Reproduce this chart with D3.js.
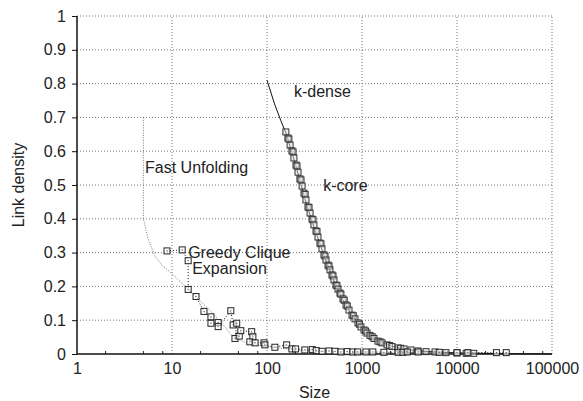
<!DOCTYPE html>
<html><head><meta charset="utf-8">
<script src="https://cdn.jsdelivr.net/npm/d3@7"></script>
<style>
body{margin:0;background:#fff;}
text{font-family:"Liberation Sans",Arial,Helvetica,sans-serif;fill:#222;}
</style></head><body>
<svg id="c" width="583" height="401"></svg>
<script>
// ---- data ----
const xTicks = [1, 10, 100, 1000, 10000, 100000];
const xTickLabels = ["1", "10", "100", "1000", "10000", "100000"];
const xMinorMult = [2, 5, 8];
const yTicks = [0, 0.1, 0.2, 0.3, 0.4, 0.5, 0.6, 0.7, 0.8, 0.9, 1];
const yTickLabels = ["0", "0.1", "0.2", "0.3", "0.4", "0.5", "0.6", "0.7", "0.8", "0.9", "1"];

const fastUnfoldingSize    = [5, 5, 5.6, 6.6, 8, 9.9, 14.8, 25, 34.6, 44, 61, 99, 200, 400];
const fastUnfoldingDensity = [0.70, 0.40, 0.34, 0.29, 0.26, 0.239, 0.191, 0.13, 0.086, 0.051, 0.032, 0.022, 0.012, 0.006];

const greedySize = [8.85, 12.8, 14.8, 14.8, 17.9, 21.7, 25.7, 25.7, 30.6, 30.6, 41.6, 44, 48, 46, 51, 53, 69, 71, 66, 75, 93, 95, 121, 161, 183, 200,
  250, 300, 330, 380, 450, 520, 600, 700, 800, 900, 1100, 1300, 1700, 2400, 2700, 3000, 3900, 6500, 10000, 13000, 26000, 33000];
const greedyDensity = [0.305, 0.308, 0.276, 0.191, 0.170, 0.126, 0.110, 0.091, 0.093, 0.081, 0.128, 0.086, 0.091, 0.046, 0.053, 0.069, 0.066, 0.051, 0.036, 0.033, 0.033, 0.027, 0.020, 0.027, 0.015, 0.015,
  0.012, 0.013, 0.010, 0.008, 0.009, 0.008, 0.006, 0.007, 0.006, 0.006, 0.006, 0.006, 0.005, 0.005, 0.005, 0.006, 0.006, 0.005, 0.004, 0.004, 0.004, 0.004];

const kcoreSize = [158, 166, 170, 175, 183, 188, 192, 202, 207, 212, 222, 228, 234, 245, 252, 257, 270, 277, 284, 298, 305, 312, 328, 336, 344, 361, 370, 379, 398, 408, 418, 439, 450, 460, 483, 495, 507, 532, 545, 559, 586, 600, 631, 650, 679, 700, 730, 785, 810, 844, 908, 940, 976, 1050, 1090, 1129, 1214, 1280, 1337, 1473, 1550, 1624, 1834, 1950, 2070, 2393, 2550, 2767, 3279, 3882, 4720, 5867, 7654, 10000, 12500, 15000];
const kcoreDensity = [0.657, 0.639, 0.636, 0.618, 0.601, 0.598, 0.580, 0.559, 0.556, 0.538, 0.518, 0.515, 0.497, 0.476, 0.472, 0.456, 0.435, 0.433, 0.417, 0.399, 0.397, 0.382, 0.364, 0.362, 0.346, 0.328, 0.326, 0.311, 0.293, 0.290, 0.278, 0.263, 0.260, 0.249, 0.234, 0.231, 0.219, 0.204, 0.202, 0.192, 0.180, 0.177, 0.163, 0.159, 0.145, 0.142, 0.130, 0.115, 0.113, 0.104, 0.092, 0.088, 0.080, 0.071, 0.068, 0.062, 0.055, 0.051, 0.046, 0.038, 0.036, 0.033, 0.027, 0.025, 0.022, 0.018, 0.017, 0.015, 0.012, 0.009, 0.007, 0.006, 0.004, 0.003, 0.002, 0.002];

const kdenseSize    = [100, 120, 140, 160, 200, 250, 300, 400, 500, 630, 800, 1000, 1500, 2000, 3000, 5000, 10000, 30000, 100000];
const kdenseDensity = [0.81, 0.74, 0.69, 0.65, 0.56, 0.46, 0.39, 0.29, 0.22, 0.16, 0.11, 0.08, 0.04, 0.024, 0.013, 0.007, 0.003, 0.001, 0.0];

const labels = [
  {text: "Fast Unfolding", s: 5.2, v: 0.535},
  {text: "Greedy Clique", s: 14.8, v: 0.283},
  {text: "Expansion", s: 16.3, v: 0.236},
  {text: "k-dense", s: 192, v: 0.76},
  {text: "k-core", s: 390, v: 0.483}
];

// ---- chart ----
const svg = d3.select("#c");
const L = 77, R = 552, T = 16, B = 354;
const x = d3.scaleLog().domain([1, 100000]).range([L, R]);
const y = d3.scaleLinear().domain([0, 1]).range([B, T]);

const zip = (a, b) => a.map((d, i) => [d, b[i]]);

// grid
const g = svg.append("g");
g.selectAll("line.gx").data(xTicks.slice(1)).join("line")
  .attr("x1", d => x(d)).attr("x2", d => x(d)).attr("y1", B).attr("y2", T)
  .attr("stroke", "#777").attr("stroke-width", 1).attr("stroke-dasharray", "1,2");
g.selectAll("line.gy").data(yTicks.slice(1)).join("line")
  .attr("x1", L).attr("x2", R).attr("y1", d => y(d)).attr("y2", d => y(d))
  .attr("stroke", "#777").attr("stroke-width", 1).attr("stroke-dasharray", "1,2");

// minor x ticks
const minors = [];
xTicks.slice(0, -1).forEach(t => xMinorMult.forEach(m => minors.push(t * m)));
g.selectAll("line.mx").data(minors).join("line")
  .attr("x1", d => x(d)).attr("x2", d => x(d)).attr("y1", B).attr("y2", B - 3)
  .attr("stroke", "#222");

// axes
const xAxis = d3.axisBottom(x).tickValues(xTicks).tickFormat((d, i) => xTickLabels[i]).tickSize(0).tickPadding(9);
const yAxis = d3.axisLeft(y).tickValues(yTicks).tickFormat((d, i) => yTickLabels[i]).tickSize(5).tickPadding(6);
const gx = svg.append("g").attr("transform", `translate(0,${B})`).call(xAxis);
const gy = svg.append("g").attr("transform", `translate(${L},0)`).call(yAxis);
[gx, gy].forEach(a => {
  a.select(".domain").attr("stroke", "#111").attr("stroke-width", 1.5);
  a.selectAll(".tick line").attr("stroke", "#111");
  a.selectAll(".tick text").attr("font-size", 16).attr("fill", "#222")
    .attr("font-family", "'Liberation Sans',Arial,sans-serif");
});
gx.select(".domain").attr("d", `M${L},0H${R}`);
gy.select(".domain").attr("d", `M0,${B}V${T}`);

// fast unfolding line
const line = d3.line().x(d => x(d[0])).y(d => y(d[1]));
svg.append("path").datum(zip(fastUnfoldingSize, fastUnfoldingDensity))
  .attr("d", line).attr("fill", "none").attr("stroke", "#777").attr("stroke-width", 1)
  .attr("stroke-dasharray", "1,1.5");

// k-dense line
svg.append("path").datum(zip(kdenseSize, kdenseDensity))
  .attr("d", line).attr("fill", "none").attr("stroke", "#111").attr("stroke-width", 1);

// greedy dotted line + markers
const gd = zip(greedySize, greedyDensity);
svg.append("path").datum(gd).attr("d", line).attr("fill", "none")
  .attr("stroke", "#111").attr("stroke-width", 1).attr("stroke-dasharray", "1,2");

// k-core markers
const kd = zip(kcoreSize, kcoreDensity);
svg.append("g").selectAll("rect").data(kd).join("rect")
  .attr("x", d => x(d[0]) - 3).attr("y", d => y(d[1]) - 3)
  .attr("width", 6).attr("height", 6)
  .attr("fill", "#ddd").attr("fill-opacity", 0.5).attr("stroke", "#333").attr("stroke-width", 1);

svg.append("g").selectAll("rect").data(gd).join("rect")
  .attr("x", d => x(d[0]) - 3).attr("y", d => y(d[1]) - 3)
  .attr("width", 6).attr("height", 6)
  .attr("fill", "#fff").attr("fill-opacity", 0.6).attr("stroke", "#222").attr("stroke-width", 1);
svg.append("g").selectAll("rect").data(gd).join("rect")
  .attr("x", d => x(d[0]) - 0.5).attr("y", d => y(d[1]) - 0.5)
  .attr("width", 1).attr("height", 1).attr("fill", "#444");

// annotations
svg.append("g").selectAll("text").data(labels).join("text")
  .attr("x", d => x(d.s)).attr("y", d => y(d.v))
  .attr("font-size", 16).text(d => d.text);

// axis titles
svg.append("text").attr("x", (L + R) / 2).attr("y", 398).attr("text-anchor", "middle")
  .attr("font-size", 16).text("Size");
svg.append("text").attr("transform", `translate(23.5,${(T + B) / 2}) rotate(-90)`)
  .attr("text-anchor", "middle").attr("font-size", 16).text("Link density");
</script>
</body></html>
